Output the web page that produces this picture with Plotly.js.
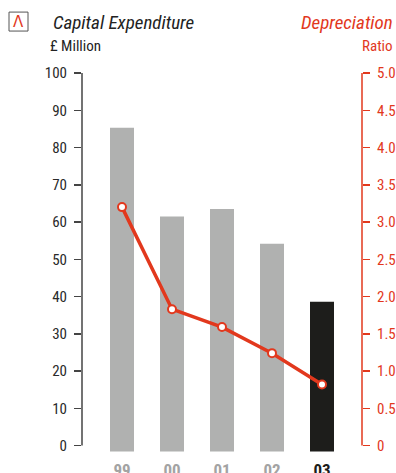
<!DOCTYPE html>
<html>
<head>
<meta charset="utf-8">
<script src="https://cdn.plot.ly/plotly-3.0.1.min.js"></script>
<style>html,body{margin:0;padding:0;background:#fff;}#chart{width:396px;height:473px;}</style>
</head>
<body>
<div id="chart"></div>
<script>
const categories = ["99", "00", "01", "02", "03"];
const capex = [85.3, 61.5, 63.5, 54.2, 38.6];
const depreciationRatio = [3.2, 1.83, 1.59, 1.24, 0.82];
const leftTicks = [0, 10, 20, 30, 40, 50, 60, 70, 80, 90, 100];
const rightTicks = [0, 0.5, 1.0, 1.5, 2.0, 2.5, 3.0, 3.5, 4.0, 4.5, 5.0];
const rightTickLabels = ["0", "0.5", "1.0", "1.5", "2.0", "2.5", "3.0", "3.5", "4.0", "4.5", "5.0"];

const FONT = "'Liberation Sans Narrow', 'Roboto Condensed', 'Arial Narrow', 'Liberation Sans', sans-serif";
const RED = "#e2381d";
const GREY = "#b0b1b0";
const DARK = "#1d1d1b";

const W = 396, H = 473;
const mL = 82, mR = 34, mT = 73, mB = 19.5;
const pw = W - mL - mR, ph = H - mT - mB;
const px = x => (x - mL) / pw;
const py = y => (H - mB - y) / ph;

const barColors = categories.map((c, i) => i === categories.length - 1 ? DARK : GREY);
const tickText = categories.map((c, i) => i === categories.length - 1
  ? '<b><span style="color:' + DARK + '">' + c + '</span></b>'
  : '<b><span style="color:#a3a3a3">' + c + '</span></b>');

const traces = [
  {
    type: "bar",
    x: categories,
    y: capex.map(v => v + 1.6),
    base: -1.6,
    marker: {color: barColors},
    hoverinfo: "skip",
    yaxis: "y"
  },
  {
    type: "scatter",
    mode: "lines+markers",
    x: categories,
    y: depreciationRatio,
    yaxis: "y2",
    line: {color: RED, width: 3.5},
    marker: {size: 8, color: "#ffffff", line: {color: RED, width: 2}},
    cliponaxis: false
  }
];

const layout = {
  width: W, height: H,
  margin: {l: mL, r: mR, t: mT, b: mB, pad: 0},
  paper_bgcolor: "#ffffff",
  plot_bgcolor: "#ffffff",
  showlegend: false,
  bargap: 0.52,
  font: {family: FONT, size: 14, color: "#333"},
  xaxis: {
    type: "category",
    range: [-0.8, 4.8],
    tickvals: categories,
    ticktext: tickText,
    showgrid: false, zeroline: false, showline: false, ticks: "",
    tickfont: {family: FONT, size: 17},
    ticklabelstandoff: 5,
    fixedrange: true
  },
  yaxis: {
    range: [-2, 100],
    tickvals: leftTicks,
    ticktext: leftTicks.map(String),
    ticks: "outside", ticklen: 7, tickwidth: 1.5, tickcolor: "#444",
    showgrid: false, zeroline: false, showline: false,
    tickfont: {family: FONT, size: 15, color: "#2a2a2a"},
    ticklabelstandoff: 4
  },
  yaxis2: {
    range: [-0.1, 5],
    overlaying: "y",
    side: "right",
    tickvals: rightTicks,
    ticktext: rightTickLabels,
    ticks: "outside", ticklen: 7, tickwidth: 1.5, tickcolor: RED,
    showgrid: false, zeroline: false, showline: false,
    tickfont: {family: FONT, size: 15, color: RED},
    ticklabelstandoff: 4
  },
  shapes: [
    {type: "line", xref: "paper", yref: "y", x0: 0, x1: 0, y0: 0, y1: 100, line: {color: "#444", width: 1.5}},
    {type: "line", xref: "paper", yref: "y2", x0: 1, x1: 1, y0: 0, y1: 5, line: {color: RED, width: 1.5}},
    {type: "rect", xref: "paper", yref: "paper", x0: px(9), x1: px(28), y0: py(12), y1: py(31), line: {color: "#555", width: 1}, fillcolor: "rgba(0,0,0,0)"}
  ],
  annotations: [
    {xref: "paper", yref: "paper", x: px(18.5), y: py(22), text: "Λ", showarrow: false, xanchor: "center", yanchor: "middle",
     font: {family: "DejaVu Sans ExtraLight, DejaVu Sans, sans-serif", size: 15, color: RED}},
    {xref: "paper", yref: "paper", x: px(51), y: py(22), text: "<i>Capital Expenditure</i>", showarrow: false, xanchor: "left", yanchor: "middle",
     font: {family: FONT, size: 19, color: "#222"}},
    {xref: "paper", yref: "paper", x: px(48), y: py(46), text: "£ Million", showarrow: false, xanchor: "left", yanchor: "middle",
     font: {family: FONT, size: 15, color: "#222"}},
    {xref: "paper", yref: "paper", x: px(395), y: py(22), text: "<i>Depreciation</i>", showarrow: false, xanchor: "right", yanchor: "middle",
     font: {family: FONT, size: 19, color: RED}},
    {xref: "paper", yref: "paper", x: px(395), y: py(46), text: "Ratio", showarrow: false, xanchor: "right", yanchor: "middle",
     font: {family: FONT, size: 15, color: RED}}
  ]
};

Plotly.newPlot("chart", traces, layout, {displayModeBar: false, staticPlot: true});
</script>
</body>
</html>
